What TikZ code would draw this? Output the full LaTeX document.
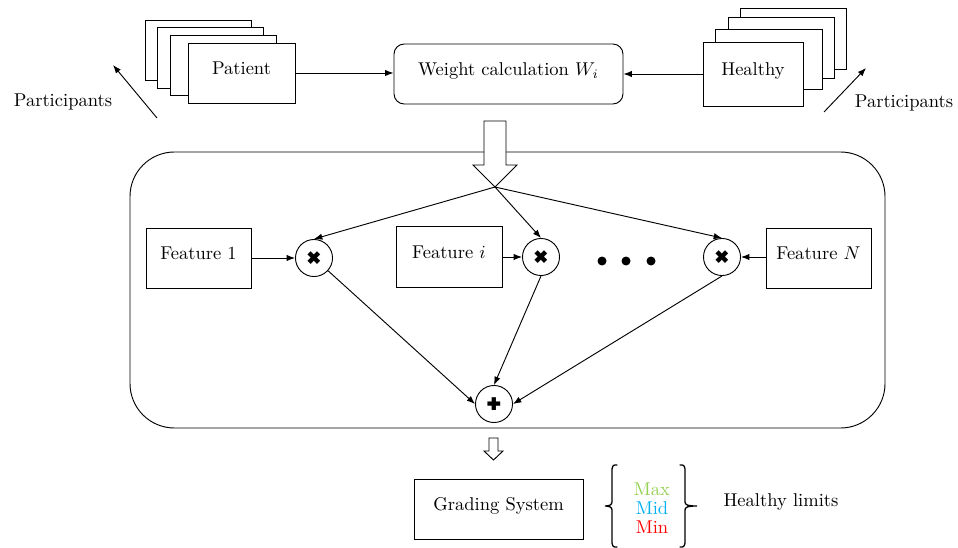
\documentclass[tikz,border=0pt]{standalone}
\usepackage{pifont}
\usetikzlibrary{arrows.meta}

\definecolor{maxgreen}{RGB}{146,208,80}
\definecolor{midblue}{RGB}{0,176,240}
\definecolor{minred}{RGB}{255,0,0}

\tikzset{
  box/.style={draw, line width=0.5pt, fill=white, inner sep=0pt,
              text height=7pt, text depth=5pt},
  sz/.style 2 args={minimum width=#1*0.54pt, minimum height=#2*0.54pt},
  rbox/.style={box, rounded corners=5.5pt},
  opnode/.style={draw, circle, line width=0.5pt, minimum size=20pt, inner sep=0pt},
  link/.style={line width=0.5pt, -{Latex[length=4.5pt,width=3.4pt]}},
  hollow/.style={draw, line width=0.5pt, fill=white, line join=miter},
  bracepath/.style={line width=0.7pt, line cap=round},
}

\begin{document}
\begin{tikzpicture}[x=0.54pt, y=-0.54pt]
\useasboundingbox (0,0) rectangle (958,548);

% patient stack
\node[box, sz={106}{60}] (pa) at (198,50) {};
\node[box, sz={106}{61}] (pb) at (210,57.5) {};
\node[box, sz={106}{60}] (pc) at (223,65) {};
\node[box, sz={107}{60}] (patient) at (241.5,73) {Patient};

% healthy stack
\node[box, sz={106}{61}] (ha) at (793,38.5) {};
\node[box, sz={106}{61}] (hb) at (781,47.5) {};
\node[box, sz={107}{60}] (hc) at (768.5,59) {};
\node[box, sz={100}{64}] (healthy) at (753,74) {Healthy};

% weight calculation
\node[rbox, sz={229}{60}] (weight) at (508.5,74) {Weight calculation $W_i$};
\draw[link] (patient.east |- 0,73) -- (weight.west |- 0,73);
\draw[link] (healthy.west |- 0,74) -- (weight.east |- 0,74);

% participant labels
\node (partL) at (63,102) {Participants};
\node (partR) at (904,103) {Participants};
\coordinate (aL0) at (157,118);
\coordinate (aL1) at (113,65);
\coordinate (aR0) at (824,112);
\coordinate (aR1) at (866,68);
\draw[link] (aL0) -- (aL1);
\draw[link] (aR0) -- (aR1);

% container
\node[draw, line width=0.5pt, rounded corners=24pt, inner sep=0pt,
      sz={755}{276}] (frame) at (507.5,290) {};

% big hollow arrow into the container
\draw[hollow] (484,121) -- (506,121) -- (506,165) -- (517,165) -- (495,187)
  -- (473,165) -- (484,165) -- cycle;
\coordinate (tip) at (495,187);

% features
\node[box, sz={105}{60}] (f1) at (198.5,258) {Feature 1};
\node[box, sz={106}{61}] (fi) at (449,256.5) {Feature $i$};
\node[box, sz={105}{60}] (fN) at (818.5,258) {Feature $N$};

% products
\node[opnode] (m1) at (314,258) {\ding{54}};
\node[opnode] (m2) at (541,257) {\ding{54}};
\node[opnode] (m3) at (722,257) {\ding{54}};

% ellipsis dots
\foreach \xx in {602,626,651} \fill (\xx,261) circle (4.5);

% sum
\node[opnode] (sum) at (494,404) {\ding{58}};

\draw[link] (tip) -- (m1.north);
\draw[link] (tip) -- (m2.north);
\draw[link] (tip) -- (m3.north);
\draw[link] (f1.east |- m1) -- (m1.west);
\draw[link] (fi.east |- m2) -- (m2.west);
\draw[link] (fN.west |- m3) -- (m3.east);
\draw[link] (m1) -- (sum.west);
\draw[link] (m2.south) -- (sum.north);
\draw[link] (m3.south) -- (sum.east);

% small hollow arrow
\draw[hollow] (489,438) -- (498,438) -- (498,451) -- (503,451) -- (493.5,460)
  -- (484,451) -- (489,451) -- cycle;

% grading system
\node[box, sz={169}{60}] (grade) at (498.5,509) {Grading System};

% braces around the limits
\draw[bracepath] (617,465) .. controls (613,465) .. (612,469) -- (612,502)
  .. controls (612,505) and (609,506) .. (605,506)
  .. controls (609,506) and (612,507) .. (612,510) -- (612,543)
  .. controls (613,547) .. (617,547);
\draw[bracepath] (680,465) .. controls (684,465) .. (685,469) -- (685,502)
  .. controls (685,505) and (688,506) .. (697,506)
  .. controls (688,506) and (685,507) .. (685,510) -- (685,543)
  .. controls (684,547) .. (680,547);
\node[text=maxgreen] (max) at (652,489) {Max};
\node[text=midblue] (mid) at (652,508) {Mid};
\node[text=minred] (min) at (652,527) {Min};

\node (limits) at (781,502) {Healthy limits};
\end{tikzpicture}
\end{document}
